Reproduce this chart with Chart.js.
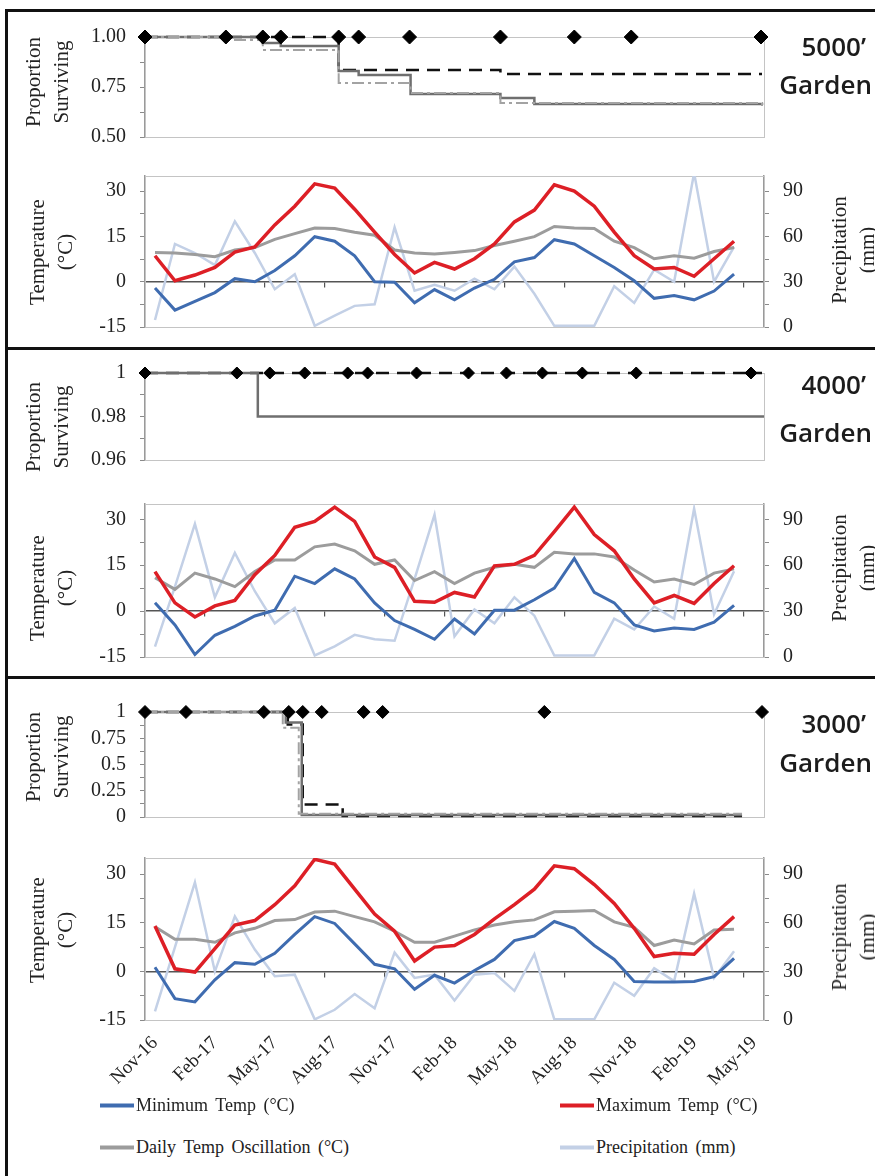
<!DOCTYPE html>
<html lang="en">
<head>
<meta charset="UTF-8">
<title>Survival and climate by garden</title>
<script src="https://cdn.jsdelivr.net/npm/chart.js"></script>
<style>
  body { margin: 0; background: #fff; }
  .page { position: relative; width: 875px; height: 1176px; overflow: hidden; font-family: 'Liberation Serif', serif; color: #222; }
  .page canvas { position: absolute; left: 0; }
  .rule { position: absolute; background: #111; }
  .vtitle { position: absolute; transform: translate(-50%, -50%) rotate(-90deg); white-space: nowrap; text-align: center; font-size: 21px; line-height: 28px; }
  .garden { position: absolute; right: 3px; font-family: 'Open Sans', sans-serif; font-weight: 600; font-size: 26px; color: #1c1c1c; text-align: right; transform: translateY(-50%); white-space: nowrap; }
  .legend-item { position: absolute; display: flex; align-items: center; font-size: 18px; word-spacing: 3px; transform: translateY(-50%); white-space: nowrap; }
  .legend-item .swatch { display: inline-block; width: 34px; height: 4px; margin-right: 2px; }
</style>
</head>
<body>
<div class="page" id="page">
  <div class="rule" style="left:5px; top:9px; width:870px; height:2.5px"></div>
  <div class="rule" style="left:5px; top:9px; width:2.5px; height:1167px"></div>
  <div class="rule" style="left:5px; top:347px; width:870px; height:2.5px"></div>
  <div class="rule" style="left:5px; top:676px; width:870px; height:2.5px"></div>
</div>

<script>
  // ---- data ----
  const monthTicks = ['Nov-16', 'Feb-17', 'May-17', 'Aug-17', 'Nov-17', 'Feb-18', 'May-18', 'Aug-18', 'Nov-18', 'Feb-19', 'May-19'];
  const seriesNames = ['Minimum Temp (°C)', 'Maximum Temp (°C)', 'Daily Temp Oscillation (°C)', 'Precipitation (mm)'];

  const tempTickVals = [-15, -7.5, 0, 7.5, 15, 22.5, 30];
  const tempTickText = ['-15', '', '0', '', '15', '', '30'];
  const precTickVals = [0, 15, 30, 45, 60, 75, 90];
  const precTickText = ['0', '', '30', '', '60', '', '90'];

  // monthly values, Nov-16 .. Apr-19
  const min5000 = [-2.1, -9.4, -6.5, -3.6, 1, 0, 3.7, 8.6, 14.9, 13.4, 8.6, 0, -0.2, -7, -2.6, -6, -2.1, 0.8, 6.6, 8, 13.9, 12.5, 8.6, 4.7, 0.3, -5.5, -4.6, -6, -3.1, 2.5];
  const max5000 = [8.6, 0.3, 2.2, 4.7, 9.8, 11.5, 18.8, 25, 32.4, 31, 24, 16.4, 9, 2.9, 6.4, 4.2, 7.6, 12.5, 19.8, 23.7, 32.1, 30, 25, 16.4, 8.6, 4.2, 4.7, 1.8, 7.6, 13.4];
  const osc5000 = [9.7, 9.5, 9, 8.3, 10.5, 11.3, 14, 15.9, 17.8, 17.6, 16.4, 15.4, 10.5, 9.5, 9.2, 9.7, 10.3, 12, 13.4, 14.9, 18.3, 17.8, 17.6, 13.4, 11.3, 7.6, 8.6, 7.8, 10, 11.3];
  const prec5000 = [4.6, 55, 49, 41, 70, 49, 25, 35, 0.8, 7.6, 14, 15, 66, 24, 28, 24, 32, 25, 40, 22, 0.8, 0.8, 0.8, 27, 16, 38, 30, 102, 30, 53];

  const min4000 = [2.7, -4.5, -14.2, -7.9, -5, -1.6, 0.3, 11.4, 9, 13.8, 10.5, 2.7, -3.1, -6, -9.2, -2.6, -7.5, 0.3, 0.3, 3.7, 7.5, 17.2, 6.1, 2.7, -4.5, -6.5, -5.5, -6, -3.6, 1.9];
  const max4000 = [12.9, 2.7, -1.9, 1.7, 3.5, 11.9, 18.2, 27.4, 29.3, 34, 29.3, 17.7, 14.3, 3.2, 2.9, 6.1, 4.6, 14.8, 15.3, 18.2, 26, 34, 25, 19.7, 10.5, 2.7, 5.1, 2.5, 9, 14.8];
  const osc4000 = [10.9, 7.1, 12.4, 10.5, 8, 12.9, 16.7, 16.7, 21, 21.9, 19.7, 15.3, 16.7, 10, 12.9, 9, 12.4, 14.3, 15.3, 14.3, 19.2, 18.7, 18.7, 17.7, 13.4, 9.5, 10.5, 8.7, 12.4, 13.8];
  const prec4000 = [6.8, 46, 87, 39, 68, 43, 22, 32, 1, 7, 14.5, 11.6, 10.6, 51, 93, 13.5, 31, 22, 39, 27, 1, 1, 1, 25, 18, 33, 25, 97, 28, 56];

  const min3000 = [1.3, -8.4, -9.4, -2.6, 2.7, 2.2, 5.6, 11.4, 16.9, 14.8, 8.5, 2.2, 0.8, -5.5, -1.2, -3.6, 0.3, 3.7, 9.5, 10.9, 15.4, 13.3, 8, 3.7, -3.1, -3.3, -3.3, -3.1, -1.6, 4];
  const max3000 = [14, 0.8, -0.2, 7, 14.3, 15.7, 20.6, 26.4, 34.6, 33.1, 25.4, 17.7, 12.4, 3.2, 7.5, 8, 11.4, 16.2, 20.6, 25.4, 32.6, 31.7, 26.8, 21, 13.3, 4.6, 5.6, 5.3, 11.4, 16.9];
  const osc3000 = [13.8, 9.9, 9.9, 9, 11.9, 13.3, 15.7, 16, 18.3, 18.6, 16.9, 15.3, 12.4, 9, 9, 10.9, 12.8, 14.3, 15.3, 15.9, 18.4, 18.6, 18.8, 15.3, 13.6, 8, 9.7, 8.5, 12.8, 13];
  const prec3000 = [5.3, 45, 85, 30, 64, 43.5, 27, 28, 0.4, 6.3, 16, 7.3, 41.6, 26, 28, 12, 28, 29, 18, 40.6, 0.4, 0.4, 0.4, 23, 15, 32, 24, 78, 26, 42.5];

  // survival, x = months since start of Nov-16
  const surv5000Ticks = [0.5, 0.625, 0.75, 0.875, 1];
  const surv5000Text = ['0.50', '', '0.75', '', '1.00'];
  const census5000 = [0, 4.05, 5.9, 6.8, 9.7, 10.7, 13.25, 17.8, 21.5, 24.35, 30.85];
  const dash5000X = [0, 9.7, 17.8, 30.9];
  const dash5000Y = [1, 0.835, 0.815, 0.815];
  const solid5000X = [0, 5.9, 6.8, 9.7, 10.7, 13.3, 17.8, 19.5, 30.9];
  const solid5000Y = [1, 0.97, 0.955, 0.83, 0.81, 0.715, 0.695, 0.665, 0.66];
  const dot5000X = [0, 4.05, 5.9, 9.7, 13.3, 17.8, 30.9];
  const dot5000Y = [1, 0.985, 0.935, 0.77, 0.72, 0.67, 0.655];

  const surv4000Ticks = [0.96, 0.97, 0.98, 0.99, 1];
  const surv4000Text = ['0.96', '', '0.98', '', '1'];
  const census4000 = [0, 4.6, 6.25, 8, 10.15, 11.15, 13.6, 16.2, 18.1, 19.9, 21.9, 24.6, 30.35];
  const dash4000X = [0, 30.9];
  const dash4000Y = [1, 1];
  const solid4000X = [0, 5.65, 31];
  const solid4000Y = [1, 0.98, 0.98];

  const surv3000Ticks = [0, 0.125, 0.25, 0.375, 0.5, 0.625, 0.75, 0.875, 1];
  const surv3000Text = ['0', '', '0.25', '', '0.5', '', '0.75', '', '1'];
  const census3000 = [0, 2.05, 5.95, 7.2, 7.9, 8.85, 10.95, 11.9, 20, 30.9];
  const dash3000X = [0, 7.15, 7.9, 9.9, 29.9];
  const dash3000Y = [1, 0.88, 0.12, 0.01, 0.01];
  const solid3000X = [0, 7.05, 7.85, 29.9];
  const solid3000Y = [1, 0.9, 0.02, 0.02];
  const dot3000X = [0, 6.9, 7.7, 29.9];
  const dot3000Y = [1, 0.85, 0.03, 0.03];

  // ---- styles ----
  const colMin = '#3f6cb0', colMax = '#dd1f26', colOsc = '#9c9c9c', colPrec = '#c3d0e6';
  const kmDash = { color: '#111', width: 2.5, dash: [13, 8] };
  const kmSolid = { color: '#6f6f6f', width: 2.5, dash: [] };
  const kmDot = { color: '#a3a3a3', width: 2, dash: [12, 4, 3, 4] };

  const PAGE_W = 875, PLOT_L = 145, PLOT_R = 764;
  const page = document.getElementById('page');

  Chart.defaults.font.family = "'Liberation Serif', serif";
  Chart.defaults.font.size = 20;
  Chart.defaults.color = '#222';

  // light frame around the plot area
  const plotBox = {
    id: 'plotBox',
    beforeDatasetsDraw(chart) {
      const { ctx, chartArea: a } = chart;
      ctx.save();
      ctx.strokeStyle = '#c4c4c4';
      ctx.lineWidth = 1;
      ctx.strokeRect(a.left + 0.5, a.top + 0.5, a.width, a.height);
      ctx.restore();
    }
  };

  function makeCanvas(top, height) {
    const c = document.createElement('canvas');
    c.width = PAGE_W;
    c.height = height;
    c.style.top = top + 'px';
    page.appendChild(c);
    return c;
  }

  function leftAxis(min, max, vals, text) {
    return {
      min, max,
      afterBuildTicks: s => { s.ticks = vals.map(v => ({ value: v })); },
      afterFit: s => { s.width = PLOT_L; },
      ticks: { autoSkip: false, padding: 14, callback: (v, i) => text[i] },
      grid: { drawOnChartArea: false, tickLength: 5, color: '#8a8a8a' },
      border: { color: '#9a9a9a', width: 1.5 }
    };
  }

  function survivalChart(top, bottom, yMin, yMax, tickVals, tickText, lines, census, dotR) {
    const pad = 16;
    const canvas = makeCanvas(top - pad, bottom - top + 2 * pad);
    const datasets = [{
      data: census.map(x => ({ x, y: yMax })),
      showLine: false, pointStyle: 'rectRot', pointRadius: dotR,
      backgroundColor: '#000', borderColor: '#000', clip: false
    }];
    lines.forEach(l => {
      datasets.push({
        data: l.x.map((x, i) => ({ x, y: l.y[i] })),
        borderColor: l.style.color, borderWidth: l.style.width, borderDash: l.style.dash,
        stepped: true, pointRadius: 0, clip: 6
      });
    });
    new Chart(canvas, {
      type: 'line',
      data: { datasets },
      options: {
        responsive: false, animation: false,
        layout: { padding: { top: pad, bottom: pad, left: 0, right: PAGE_W - PLOT_R } },
        plugins: { legend: { display: false }, tooltip: { enabled: false } },
        scales: {
          x: { type: 'linear', min: 0, max: 31, display: false },
          y: leftAxis(yMin, yMax, tickVals, tickText)
        }
      },
      plugins: [plotBox]
    });
  }

  function climateChart(top, bottom, minT, maxT, osc, prec, showX) {
    const pad = 16, xh = showX ? 80 : 0;
    const canvas = makeCanvas(top - pad, bottom - top + pad + (showX ? xh : pad));
    const pts = arr => arr.map((v, i) => ({ x: i + 0.5, y: v }));
    const line = (label, arr, color, width, axis) => ({
      label, data: pts(arr), borderColor: color, backgroundColor: color,
      borderWidth: width, pointRadius: 0, tension: 0, yAxisID: axis
    });
    new Chart(canvas, {
      type: 'line',
      data: {
        datasets: [
          line(seriesNames[1], maxT, colMax, 3.5, 'y'),
          line(seriesNames[0], minT, colMin, 3, 'y'),
          line(seriesNames[2], osc, colOsc, 3, 'y'),
          line(seriesNames[3], prec, colPrec, 2.5, 'y2')
        ]
      },
      options: {
        responsive: false, animation: false,
        layout: { padding: { top: pad, bottom: showX ? 0 : pad, left: 0, right: 0 } },
        plugins: { legend: { display: false }, tooltip: { enabled: false } },
        scales: {
          x: {
            type: 'linear', min: 0, max: 31, display: showX,
            afterBuildTicks: s => { s.ticks = monthTicks.map((_, k) => ({ value: 3 * k + 0.5 })); },
            afterFit: s => { s.height = xh; },
            ticks: { autoSkip: false, minRotation: 45, maxRotation: 45, padding: 4, font: { size: 19 }, callback: (v, i) => monthTicks[i] },
            grid: { display: false }, border: { display: false }
          },
          x2: {
            type: 'linear', min: 0, max: 31, position: { y: 0 },
            afterBuildTicks: s => { s.ticks = monthTicks.map((_, k) => ({ value: 3 * k })); },
            ticks: { display: false },
            grid: { drawOnChartArea: false, tickLength: 5, color: '#555', lineWidth: 1.2 },
            border: { color: '#555', width: 1.5 }
          },
          y: leftAxis(-15, 35, tempTickVals, tempTickText),
          y2: {
            position: 'right', min: 0, max: 100,
            afterBuildTicks: s => { s.ticks = precTickVals.map(v => ({ value: v })); },
            afterFit: s => { s.width = PAGE_W - PLOT_R; },
            ticks: { autoSkip: false, padding: 14, callback: (v, i) => precTickText[i] },
            grid: { drawOnChartArea: false, tickLength: 5, color: '#8a8a8a' },
            border: { color: '#9a9a9a', width: 1.5 }
          }
        }
      },
      plugins: [plotBox]
    });
  }

  // 5000' garden
  survivalChart(27, 147, 0.5, 1, surv5000Ticks, surv5000Text, [
    { x: dot5000X, y: dot5000Y, style: kmDot },
    { x: solid5000X, y: solid5000Y, style: kmSolid },
    { x: dash5000X, y: dash5000Y, style: kmDash }
  ], census5000, 7);
  climateChart(166, 337, min5000, max5000, osc5000, prec5000, false);

  // 4000' garden
  survivalChart(363, 470, 0.96, 1, surv4000Ticks, surv4000Text, [
    { x: solid4000X, y: solid4000Y, style: kmSolid },
    { x: dash4000X, y: dash4000Y, style: kmDash }
  ], census4000, 6);
  climateChart(494, 667, min4000, max4000, osc4000, prec4000, false);

  // 3000' garden
  survivalChart(702, 827, 0, 1, surv3000Ticks, surv3000Text, [
    { x: dot3000X, y: dot3000Y, style: kmDot },
    { x: solid3000X, y: solid3000Y, style: kmSolid },
    { x: dash3000X, y: dash3000Y, style: kmDash }
  ], census3000, 6.5);
  climateChart(848, 1020, min3000, max3000, osc3000, prec3000, true);

  // axis titles
  const titles = [
    { x: 47, y: 82, lines: ['Proportion', 'Surviving'] },
    { x: 51, y: 252, lines: ['Temperature', '(°C)'] },
    { x: 853, y: 250, lines: ['Precipitation', '(mm)'] },
    { x: 47, y: 427, lines: ['Proportion', 'Surviving'] },
    { x: 51, y: 588, lines: ['Temperature', '(°C)'] },
    { x: 853, y: 568, lines: ['Precipitation', '(mm)'] },
    { x: 47, y: 757, lines: ['Proportion', 'Surviving'] },
    { x: 51, y: 930, lines: ['Temperature', '(°C)'] },
    { x: 853, y: 937, lines: ['Precipitation', '(mm)'] }
  ];
  titles.forEach(t => {
    const d = document.createElement('div');
    d.className = 'vtitle';
    d.style.left = t.x + 'px';
    d.style.top = t.y + 'px';
    d.innerHTML = t.lines.join('<br>');
    page.appendChild(d);
  });

  // garden labels
  const gardens = [
    { text: '5000’', y: 46, right: 9 }, { text: 'Garden', y: 84, right: 3 },
    { text: '4000’', y: 384, right: 9 }, { text: 'Garden', y: 432, right: 3 },
    { text: '3000’', y: 723, right: 9 }, { text: 'Garden', y: 762, right: 3 }
  ];
  gardens.forEach(g => {
    const d = document.createElement('div');
    d.className = 'garden';
    d.style.top = g.y + 'px';
    d.style.right = g.right + 'px';
    d.textContent = g.text;
    page.appendChild(d);
  });

  // shared legend
  const legendCols = [colMin, colMax, colOsc, colPrec];
  const legendPos = [{ x: 100, y: 1105 }, { x: 560, y: 1105 }, { x: 100, y: 1147 }, { x: 560, y: 1147 }];
  seriesNames.forEach((name, i) => {
    const d = document.createElement('div');
    d.className = 'legend-item';
    d.style.left = legendPos[i].x + 'px';
    d.style.top = legendPos[i].y + 'px';
    d.innerHTML = '<span class="swatch" style="background:' + legendCols[i] + '"></span>' + name;
    page.appendChild(d);
  });
</script>
</body>
</html>
